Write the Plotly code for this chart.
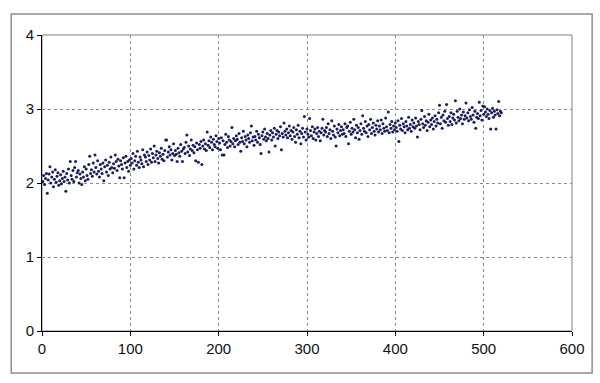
import plotly.graph_objects as go

y_values = [
    2.02, 2.10, 1.98, 2.06, 2.13, 1.86, 2.04, 2.12, 2.22, 2.00, 2.08, 2.15, 1.95, 2.05, 2.18, 2.01, 2.09, 2.14, 1.97, 2.03,
    2.11, 1.99, 2.06, 2.16, 2.02, 2.08, 1.89, 2.13, 2.04, 2.19, 2.00, 2.29, 2.10, 2.05, 2.17, 2.02, 2.21, 2.29, 2.08, 2.14,
    2.17, 2.00, 2.12, 2.06, 1.98, 2.15, 2.08, 2.22, 2.03, 2.19, 2.10, 2.05, 2.25, 2.36, 2.13, 2.18, 2.09, 2.27, 2.15, 2.38,
    2.21, 2.12, 2.30, 2.16, 2.08, 2.25, 2.19, 2.13, 2.27, 2.03, 2.22, 2.31, 2.15, 2.24, 2.10, 2.28, 2.19, 2.35, 2.21, 2.14,
    2.26, 2.20, 2.38, 2.29, 2.17, 2.32, 2.23, 2.07, 2.30, 2.25, 2.19, 2.34, 2.07, 2.27, 2.36, 2.21, 2.29, 2.16, 2.31, 2.24,
    2.33, 2.27, 2.40, 2.19, 2.30, 2.36, 2.24, 2.43, 2.28, 2.21, 2.35, 2.31, 2.26, 2.45, 2.22, 2.38, 2.35, 2.29, 2.42, 2.25,
    2.37, 2.31, 2.46, 2.28, 2.40, 2.34, 2.50, 2.29, 2.38, 2.43, 2.33, 2.27, 2.41, 2.36, 2.47, 2.32, 2.39, 2.30, 2.44, 2.58,
    2.58, 2.35, 2.42, 2.49, 2.38, 2.45, 2.31, 2.40, 2.53, 2.37, 2.44, 2.39, 2.29, 2.47, 2.41, 2.36, 2.52, 2.43, 2.29, 2.46,
    2.48, 2.40, 2.55, 2.65, 2.42, 2.50, 2.37, 2.46, 2.58, 2.44, 2.51, 2.41, 2.49, 2.30, 2.54, 2.45, 2.28, 2.52, 2.47, 2.56,
    2.25, 2.50, 2.58, 2.46, 2.53, 2.44, 2.69, 2.51, 2.57, 2.48, 2.62, 2.55, 2.45, 2.59, 2.52, 2.49, 2.64, 2.56, 2.47, 2.60,
    2.54, 2.45, 2.61, 2.38, 2.57, 2.38, 2.52, 2.66, 2.55, 2.48, 2.63, 2.58, 2.50, 2.56, 2.75, 2.53, 2.60, 2.49, 2.57, 2.64,
    2.59, 2.52, 2.67, 2.55, 2.43, 2.61, 2.56, 2.70, 2.53, 2.63, 2.58, 2.49, 2.65, 2.60, 2.55, 2.68, 2.77, 2.57, 2.62, 2.51,
    2.63, 2.58, 2.70, 2.55, 2.66, 2.61, 2.52, 2.40, 2.64, 2.69, 2.59, 2.73, 2.62, 2.57, 2.67, 2.60, 2.42, 2.65, 2.71, 2.58,
    2.68, 2.62, 2.74, 2.50, 2.66, 2.71, 2.60, 2.69, 2.64, 2.76, 2.45, 2.67, 2.62, 2.81, 2.70, 2.65, 2.73, 2.61, 2.68, 2.77,
    2.64, 2.71, 2.59, 2.69, 2.75, 2.63, 2.55, 2.72, 2.66, 2.78, 2.61, 2.70, 2.53, 2.67, 2.74, 2.62, 2.90, 2.69, 2.58, 2.73,
    2.66, 2.62, 2.87, 2.71, 2.64, 2.76, 2.60, 2.69, 2.73, 2.58, 2.67, 2.75, 2.63, 2.70, 2.57, 2.68, 2.74, 2.86, 2.65, 2.71,
    2.69, 2.75, 2.63, 2.80, 2.67, 2.72, 2.60, 2.84, 2.70, 2.65, 2.77, 2.62, 2.50, 2.73, 2.68, 2.79, 2.64, 2.71, 2.76, 2.66,
    2.72, 2.67, 2.80, 2.63, 2.75, 2.77, 2.53, 2.70, 2.82, 2.66, 2.74, 2.69, 2.86, 2.72, 2.61, 2.78, 2.68, 2.75, 2.59, 2.71,
    2.80, 2.66, 2.91, 2.74, 2.70, 2.83, 2.68, 2.77, 2.63, 2.79, 2.72, 2.86, 2.67, 2.75, 2.81, 2.70, 2.65, 2.78, 2.73, 2.84,
    2.69, 2.77, 2.72, 2.85, 2.67, 2.80, 2.74, 2.70, 2.88, 2.76, 2.71, 2.96, 2.68, 2.79, 2.74, 2.83, 2.69, 2.77, 2.72, 2.81,
    2.75, 2.70, 2.84, 2.56, 2.78, 2.73, 2.87, 2.71, 2.80, 2.76, 2.68, 2.83, 2.77, 2.72, 2.89, 2.74, 2.79, 2.70, 2.85, 2.76,
    2.81, 2.74, 2.88, 2.77, 2.62, 2.83, 2.79, 2.72, 2.86, 2.98, 2.80, 2.75, 2.90, 2.78, 2.84, 2.71, 2.82, 2.93, 2.76, 2.85,
    2.79, 2.88, 2.73, 2.83, 2.91, 2.77, 2.86, 2.81, 2.95, 3.05, 2.80, 2.89, 2.74, 2.92, 2.84, 2.97, 2.82, 3.06, 2.87, 2.78,
    2.90, 2.83, 2.95, 2.79, 2.88, 2.93, 2.85, 3.11, 2.81, 2.97, 2.89, 2.84, 3.00, 2.87, 2.92, 2.80, 2.96, 2.86, 2.91, 3.08,
    2.88, 2.95, 2.84, 2.99, 2.90, 2.86, 3.02, 2.92, 2.82, 2.97, 2.74, 2.89, 2.94, 2.87, 3.09, 2.91, 2.98, 2.85, 3.04, 2.93,
    3.03, 2.96, 2.90, 3.00, 2.93, 2.87, 2.98, 2.73, 2.95, 3.01, 2.89, 2.97, 2.92, 2.73, 2.99, 2.94, 3.10, 2.91, 2.97, 2.95,
]
x_values = list(range(1, len(y_values) + 1))

x_ticks = [0, 100, 200, 300, 400, 500, 600]
y_ticks = [0, 1, 2, 3, 4]

fig = go.Figure()
fig.add_trace(go.Scatter(
    x=x_values, y=y_values, mode="markers",
    marker=dict(color="#1b1b5e", size=3, symbol="circle", line=dict(width=0)),
    hoverinfo="x+y",
))

axis_font = dict(family="Liberation Sans, Arial, sans-serif", size=15, color="#111111")

fig.update_layout(
    width=600, height=383,
    margin=dict(l=42, r=28, t=35, b=52),
    paper_bgcolor="white", plot_bgcolor="white",
    showlegend=False,
    xaxis=dict(
        range=[0, 600], tickvals=x_ticks, ticktext=[str(v) for v in x_ticks],
        showgrid=True, gridcolor="#8a8a8a", griddash="dot", gridwidth=1,
        zeroline=False, showline=True, linecolor="black", linewidth=1,
        ticks="outside", ticklen=4, tickcolor="black", tickfont=axis_font,
        fixedrange=True,
    ),
    yaxis=dict(
        range=[0, 4], tickvals=y_ticks, ticktext=[str(v) for v in y_ticks],
        showgrid=True, gridcolor="#8a8a8a", griddash="dot", gridwidth=1,
        zeroline=False, showline=True, linecolor="black", linewidth=1,
        ticks="outside", ticklen=4, tickcolor="black", tickfont=axis_font,
        fixedrange=True,
    ),
    shapes=[
        dict(type="rect", xref="paper", yref="paper", x0=0, x1=1, y0=0, y1=1,
             line=dict(color="#808080", width=1), layer="below"),
        dict(type="rect", xref="paper", yref="paper",
             x0=-0.058, x1=1.038, y0=-0.142, y1=1.071,
             line=dict(color="#8c8c8c", width=1.5)),
    ],
)

fig.write_html("out.html")
